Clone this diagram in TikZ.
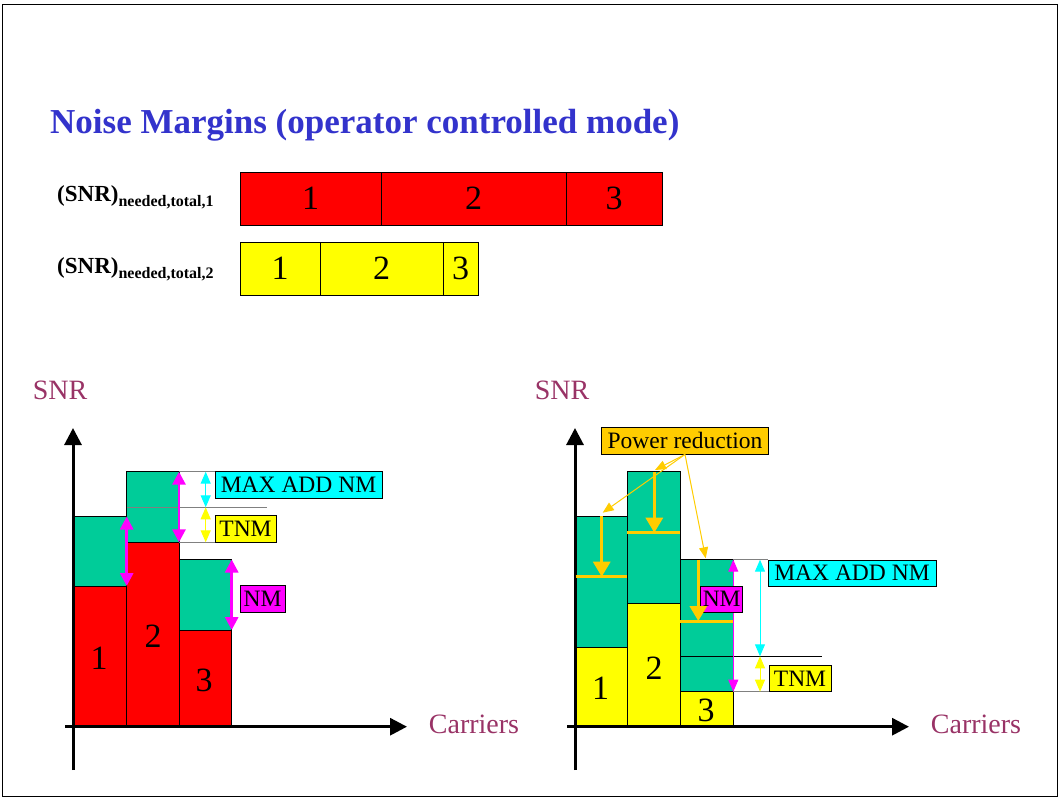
\documentclass[tikz,border=0pt]{standalone}
\usepackage{fontspec}
\setmainfont{Liberation Serif}
\usetikzlibrary{arrows.meta}
\definecolor{nmgreen}{RGB}{0,204,153}
\definecolor{titleblue}{RGB}{51,51,204}
\definecolor{axred}{RGB}{153,51,102}
\definecolor{prorange}{RGB}{255,204,0}
\definecolor{pcyan}{RGB}{0,255,255}
\definecolor{pmagenta}{RGB}{255,0,255}
\definecolor{pyellow}{RGB}{255,255,0}
\definecolor{pred}{RGB}{255,0,0}
\newcommand{\fsz}[1]{\fontsize{#1}{#1}\selectfont}

\begin{document}
\begin{tikzpicture}[x=1pt,y=-1pt,
  every node/.style={inner sep=0pt},
  cell/.style={draw=black,line width=0.8pt,font=\fsz{34}},
  tag/.style={draw=black,line width=0.8pt,font=\fsz{23.5}},
  digit/.style={font=\fsz{34}},
  axlabel/.style={font=\fsz{28},text=axred},
  level/.style={draw=black,line width=0.8pt},
  axis/.style={line width=3pt,-{Triangle[width=17pt,length=17pt]}},
  bigarr/.style={line width=2.8pt,{Triangle[width=13pt,length=13pt]}-{Triangle[width=13pt,length=13pt]}},
  smallarr/.style={line width=1.3pt,{Triangle[width=10pt,length=12pt]}-{Triangle[width=10pt,length=12pt]}},
  thinarr/.style={line width=1pt,{Triangle[width=10pt,length=12pt]}-{Triangle[width=10pt,length=12pt]}},
  downarr/.style={prorange,line width=3pt,-{Triangle[width=17pt,length=15pt]}},
  pointer/.style={prorange,line width=1pt,-{Triangle[width=9pt,length=11pt]}},
  guide/.style={draw=gray,line width=1pt}]
\useasboundingbox (0,0) rectangle (1061,798);
\draw[line width=1pt] (2,4) rectangle (1057.5,796.5);

\node[anchor=base west,font=\bfseries\fsz{35},text=titleblue] (ttl) at (50,133) {Noise Margins (operator controlled mode)};
\node[anchor=base west,font=\bfseries\fsz{23}] (need1) at (57,201) {(SNR)\raisebox{-5pt}{\fsz{16}needed,total,1}};
\node[anchor=base west,font=\bfseries\fsz{23}] (need2) at (57,273) {(SNR)\raisebox{-5pt}{\fsz{16}needed,total,2}};

\node[cell,fill=pred,minimum width=141pt,minimum height=53pt] (ra) at (310.5,198.5) {1};
\node[cell,fill=pred,minimum width=185pt,minimum height=53pt] (rb) at (473.5,198.5) {2};
\node[cell,fill=pred,minimum width=96pt,minimum height=53pt] (rc) at (614,198.5) {3};
\node[cell,fill=pyellow,minimum width=80pt,minimum height=53pt] (ya) at (280,268.5) {1};
\node[cell,fill=pyellow,minimum width=123pt,minimum height=53pt] (yb) at (381.5,268.5) {2};
\node[cell,fill=pyellow,minimum width=35pt,minimum height=53pt] (yc) at (460.5,268.5) {3};

\node[axlabel] (snrl) at (60,390) {SNR};
\node[axlabel] (carl) at (474,724) {Carriers};
\node[axlabel] (snrr) at (562,390) {SNR};
\node[axlabel] (carr) at (976,724) {Carriers};

\draw[level,fill=nmgreen] (73,516) rectangle (126.7,586);
\draw[level,fill=pred] (73,586) rectangle (126.7,726.7);
\draw[level,fill=nmgreen] (126.7,471.7) rectangle (179,542.3);
\draw[level,fill=pred] (126.7,542.3) rectangle (179,726.7);
\draw[level,fill=nmgreen] (179,559.5) rectangle (231.7,630);
\draw[level,fill=pred] (179,630) rectangle (231.7,726.7);
\node[digit] (l1) at (99,658) {1};
\node[digit] (l2) at (153,636) {2};
\node[digit] (l3) at (204,680) {3};
\draw[guide] (126.7,507.3) -- (267,507.3);
\draw[guide] (179,471.7) -- (215,471.7);
\draw[guide] (179,542.3) -- (223,542.3);
\draw[axis] (73,770) -- (73,428);
\draw[axis] (65,726.7) -- (407,726.7);
\draw[bigarr,pmagenta] (126.7,516.5) -- (126.7,586);
\draw[bigarr,pmagenta] (179,471.7) -- (179,542.3);
\draw[bigarr,pmagenta] (231.7,559.5) -- (231.7,630);
\draw[smallarr,pcyan] (205.7,471.7) -- (205.7,507.3);
\draw[smallarr,pyellow] (205.7,507.3) -- (205.7,542.3);
\node[tag,fill=pcyan,minimum width=167pt,minimum height=26.5pt] (maxl) at (298.5,485) {MAX ADD NM};
\node[tag,fill=pyellow,minimum width=61pt,minimum height=26.5pt] (tnml) at (245.5,529) {TNM};
\node[tag,fill=pmagenta,minimum width=45pt,minimum height=27pt] (nml) at (262.5,599) {NM};

\draw[level,fill=nmgreen] (575.7,516) rectangle (627.3,647.7);
\draw[level,fill=pyellow] (575.7,647.7) rectangle (627.3,726.7);
\draw[level,fill=nmgreen] (627.3,471.7) rectangle (680.3,603.7);
\draw[level,fill=pyellow] (627.3,603.7) rectangle (680.3,726.7);
\draw[level,fill=nmgreen] (680.3,559.7) rectangle (733.3,691.7);
\draw[level,fill=pyellow] (680.3,691.7) rectangle (733.3,726.7);
\node[digit] (r1) at (600.7,688) {1};
\node[digit] (r2) at (654,668) {2};
\node[digit] (r3) at (706,710) {3};
\draw[line width=1pt] (680.3,656.3) -- (821.7,656.3);
\draw[guide] (733.3,559.7) -- (768,559.7);
\draw[guide] (733.3,691.7) -- (777,691.7);
\draw[axis] (575,770) -- (575,428);
\draw[axis] (567,726.7) -- (909,726.7);
\draw[thinarr,pmagenta] (733.3,559.7) -- (733.3,691.7);
\draw[thinarr,pcyan] (760,559.7) -- (760,656.3);
\draw[thinarr,pyellow] (760,656.3) -- (760,691.7);
\node[tag,fill=pcyan,minimum width=168pt,minimum height=26.5pt] (maxr) at (852,573.2) {MAX ADD NM};
\node[tag,fill=pyellow,minimum width=62pt,minimum height=25.5pt] (tnmr) at (800,678.3) {TNM};
\node[tag,fill=pmagenta,minimum width=42pt,minimum height=26.3pt] (nmr) at (721.7,599.2) {NM};
\draw[prorange,line width=3pt] (575.7,576.7) -- (627.3,576.7);
\draw[prorange,line width=3pt] (627.3,532.7) -- (680.3,532.7);
\draw[prorange,line width=3pt] (680.3,621) -- (733.3,621);
\draw[downarr] (601.7,516) -- (601.7,576.7);
\draw[downarr] (654.3,471.7) -- (654.3,532.7);
\draw[downarr] (698.3,559.7) -- (698.3,621);
\node[tag,fill=prorange,minimum width=166.6pt,minimum height=26.7pt] (pr) at (685,440.7) {Power reduction};
\coordinate (t1) at (602.7,512.7);
\coordinate (t2) at (655,470);
\coordinate (t3) at (705.7,558.3);
\draw[pointer] (pr.south) -- (t1);
\draw[pointer] (pr.south) -- (t2);
\draw[pointer] (pr.south) -- (t3);
\end{tikzpicture}
\end{document}
